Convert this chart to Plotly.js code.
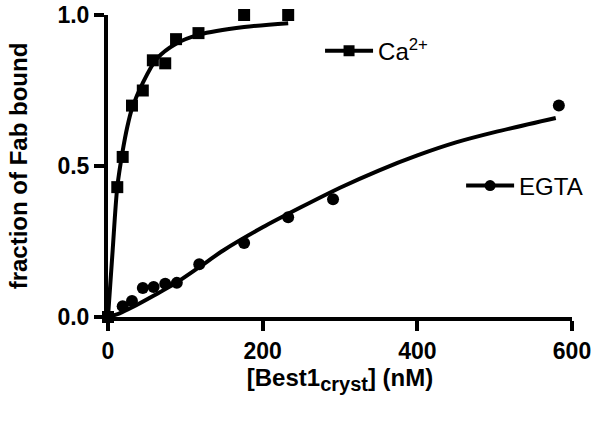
<!DOCTYPE html>
<html><head><meta charset="utf-8">
<script src="https://cdn.plot.ly/plotly-3.0.1.min.js"></script>
<style>html,body{margin:0;padding:0;background:#fff}#chart{width:600px;height:422px}</style>
</head><body><div id="chart"></div>
<script>
// Ca2+ data points
var caX = [0, 12, 19, 31, 45, 58, 74, 88, 117, 176, 233];
var caY = [0, 0.43, 0.53, 0.70, 0.75, 0.85, 0.84, 0.92, 0.94, 1.0, 1.0];
// Ca2+ fit curve
var caFitX = [0, 6, 12, 19, 25, 31, 45, 63, 88, 118, 176, 233];
var caFitY = [0, 0.22, 0.43, 0.55, 0.63, 0.69, 0.775, 0.855, 0.905, 0.935, 0.96, 0.973];
// EGTA data points
var egX = [0, 19, 31, 45, 59, 74, 89, 118, 176, 233, 291, 583];
var egY = [0, 0.036, 0.053, 0.096, 0.099, 0.11, 0.113, 0.175, 0.245, 0.33, 0.39, 0.70];
// EGTA fit curve
var egFitX = [0, 15, 32, 60, 88, 118, 150, 200, 250, 300, 350, 400, 450, 500, 579];
var egFitY = [0, 0.012, 0.033, 0.072, 0.113, 0.165, 0.222, 0.297, 0.364, 0.428, 0.485, 0.535, 0.578, 0.612, 0.659];
// tick labels
var xTicks = [0, 200, 400, 600];
var xTickText = ['0', '200', '400', '600'];
var yTicks = [0, 0.5, 1.0];
var yTickText = ['0.0', '0.5', '1.0'];

var black = '#000';
var fam = 'Liberation Sans, Arial, sans-serif';
var traces = [
  {x: caFitX, y: caFitY, mode: 'lines', line: {color: black, width: 4, shape: 'spline', smoothing: 0.8}, showlegend: false, cliponaxis: false, hoverinfo: 'skip'},
  {x: egFitX, y: egFitY, mode: 'lines', line: {color: black, width: 4, shape: 'spline', smoothing: 0.8}, showlegend: false, cliponaxis: false, hoverinfo: 'skip'},
  {x: caX, y: caY, mode: 'markers', marker: {symbol: 'square', size: 12, color: black}, showlegend: false, cliponaxis: false},
  {x: egX, y: egY, mode: 'markers', marker: {symbol: 'circle', size: 12, color: black}, showlegend: false, cliponaxis: false},
  {x: [null], y: [null], mode: 'lines+markers', name: 'Ca<sup>2+</sup>', line: {color: black, width: 4}, marker: {symbol: 'square', size: 11, color: black}, legend: 'legend'},
  {x: [null], y: [null], mode: 'lines+markers', name: 'EGTA', line: {color: black, width: 4}, marker: {symbol: 'circle', size: 11, color: black}, legend: 'legend2'}
];

var tickFont = {family: fam, size: 23, color: black, weight: 'bold'};
var layout = {
  width: 600, height: 422,
  margin: {l: 108, r: 24, t: 15, b: 105},
  paper_bgcolor: '#fff', plot_bgcolor: '#fff',
  xaxis: {
    range: [0, 600], tickvals: xTicks, ticktext: xTickText,
    showgrid: false, zeroline: false, showline: true, linecolor: black, linewidth: 4,
    ticks: 'outside', ticklen: 10, tickwidth: 4, tickcolor: black,
    tickfont: tickFont,
    title: {text: '[Best1<sub><span style="font-size:20px">cryst</span></sub>] (nM)', font: {family: fam, size: 24, color: black, weight: 'bold'}, standoff: 6}
  },
  yaxis: {
    range: [0, 1.0], tickvals: yTicks, ticktext: yTickText,
    showgrid: false, zeroline: false, showline: true, linecolor: black, linewidth: 4,
    ticks: 'outside', ticklen: 10, tickwidth: 4, tickcolor: black,
    tickfont: tickFont,
    title: {text: 'fraction of Fab bound', font: {family: fam, size: 24, color: black, weight: 'bold'}, standoff: 24}
  },
  legend: {x: 0.457, y: 0.88, xanchor: 'left', yanchor: 'middle', itemwidth: 48, bgcolor: 'rgba(0,0,0,0)', font: {family: fam, size: 24, color: black}},
  legend2: {x: 0.761, y: 0.434, xanchor: 'left', yanchor: 'middle', itemwidth: 48, bgcolor: 'rgba(0,0,0,0)', font: {family: fam, size: 24, color: black}}
};
Plotly.newPlot('chart', traces, layout, {displayModeBar: false, staticPlot: true});
</script></body></html>
